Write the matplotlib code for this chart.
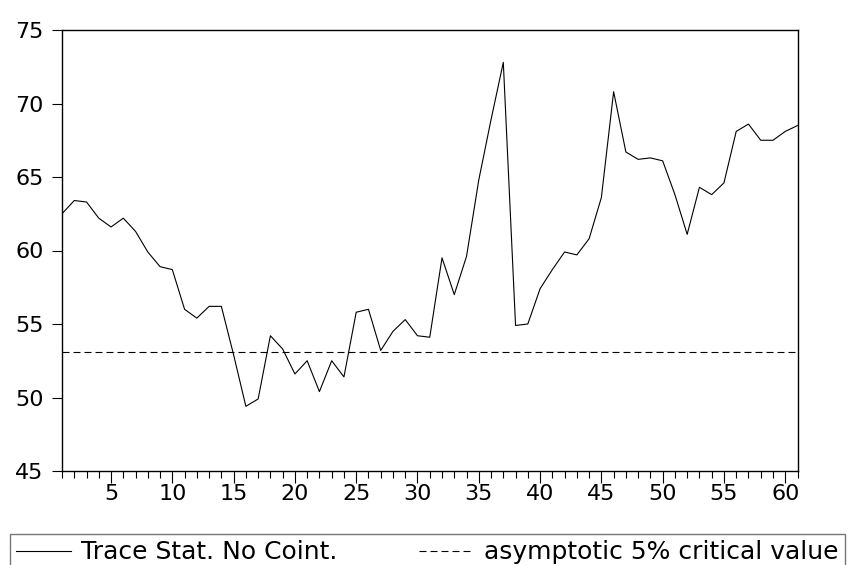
import numpy as np
import matplotlib
matplotlib.use("Agg")
import matplotlib.pyplot as plt
from matplotlib.ticker import MultipleLocator

obs = list(range(1, 62))
trace_stat = [62.5, 63.4, 63.3, 62.2, 61.6, 62.2, 61.3, 59.9, 58.9, 58.7,
              56.0, 55.4, 56.2, 56.2, 52.9, 49.4, 49.9, 54.2, 53.3, 51.6,
              52.5, 50.4, 52.5, 51.4, 55.8, 56.0, 53.2, 54.5, 55.3, 54.2,
              54.1, 59.5, 57.0, 59.6, 64.8, 68.9, 72.8, 54.9, 55.0, 57.4,
              58.7, 59.9, 59.7, 60.8, 63.6, 70.8, 66.7, 66.2, 66.3, 66.1,
              63.8, 61.1, 64.3, 63.8, 64.6, 68.1, 68.6, 67.5, 67.5, 68.1,
              68.5]
crit_value = 53.1

series_labels = ["Trace Stat. No Coint.", "asymptotic 5% critical value"]
yticks = [45, 50, 55, 60, 65, 70, 75]
xticks = list(range(5, 61, 5))

plt.rcParams['font.family'] = ['DejaVu Sans']

fig = plt.figure(figsize=(8.47, 5.65), dpi=100)
ax = fig.add_axes([62 / 847, 1 - 471 / 565, (797.5 - 62) / 847, (471 - 30) / 565])

ax.plot(obs, trace_stat, color='black', lw=0.8, label=series_labels[0])
ax.plot(obs, [crit_value] * len(obs), color='black', lw=0.8,
        dashes=(6.3, 3.6), label=series_labels[1])

ax.set_xlim(1, 61)
ax.set_ylim(45, 75)
ax.set_yticks(yticks)
ax.set_xticks(xticks)
ax.xaxis.set_minor_locator(MultipleLocator(1))

ax.tick_params(axis='y', direction='out', length=7.2, width=0.8, pad=6,
               labelsize=16, left=True, right=False)
ax.tick_params(axis='x', which='major', direction='out', length=8.6,
               width=0.8, pad=1, labelsize=16, top=False)
ax.tick_params(axis='x', which='minor', direction='out', length=5,
               width=0.8, top=False)

for sp in ax.spines.values():
    sp.set_linewidth(1.0)
    sp.set_color('black')

# legend box spans almost the whole width below the plot
leg = ax.legend(loc='upper left',
                bbox_to_anchor=(10 / 847, 1 - 534 / 565, 835 / 847, 0.0),
                bbox_transform=fig.transFigure, ncol=2, mode='expand',
                frameon=True, fancybox=False, edgecolor='#555555',
                fontsize=18, handlelength=2.2, handletextpad=0.4,
                columnspacing=2.0, borderaxespad=0, borderpad=0.25)
leg.get_frame().set_linewidth(1.0)

fig.savefig("out.png", dpi=100)
